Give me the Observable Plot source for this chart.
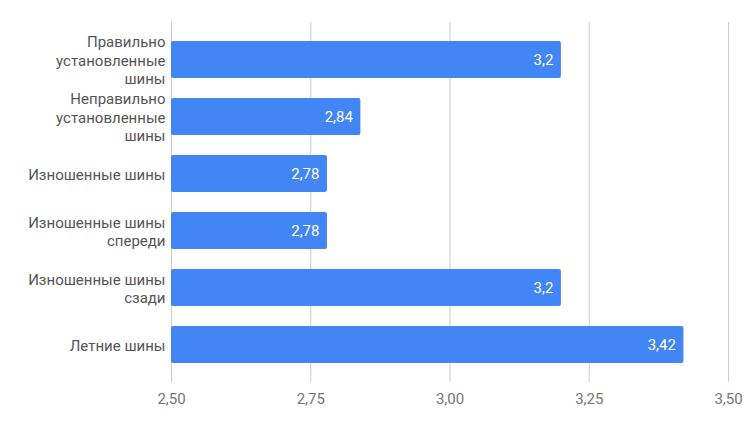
<!DOCTYPE html>
<html><head><meta charset="utf-8">
<script src="https://cdn.jsdelivr.net/npm/d3@7"></script>
<script src="https://cdn.jsdelivr.net/npm/@observablehq/plot@0.6"></script>
<style>body{margin:0;background:#fff;} svg{display:block;}</style>
</head><body><div id="chart"></div>
<script>
const categories = [
  "Правильно\nустановленные\nшины",
  "Неправильно\nустановленные\nшины",
  "Изношенные шины",
  "Изношенные шины\nспереди",
  "Изношенные шины\nсзади",
  "Летние шины"
];
const values = [3.2, 2.84, 2.78, 2.78, 3.2, 3.42];
const xTicks = [2.5, 2.75, 3.0, 3.25, 3.5];

const data = categories.map((c, i) => ({cat: c, v: values[i]}));
const fmt = v => String(v).replace(".", ",");

const chart = Plot.plot({
  width: 750, height: 431,
  marginLeft: 171, marginRight: 22, marginTop: 22, marginBottom: 49,
  style: {fontFamily: "Roboto, sans-serif", background: "#fff"},
  x: {domain: [2.5, 3.5], ticks: xTicks},
  y: {domain: categories, padding: 0.35, range: [21, 384]},
  marks: [
    Plot.ruleX(xTicks, {stroke: "#cccccc", strokeWidth: 1}),
    Plot.barX(data, {x1: 2.5, x2: "v", y: "cat", fill: "#4285f4", rx: 2}),
    Plot.text(data, {x: "v", y: "cat", text: d => fmt(d.v), fill: "white", textAnchor: "end", dx: -8, fontSize: 15}),
    Plot.axisX({ticks: xTicks, tickFormat: d => d.toFixed(2).replace(".", ","), tickSize: 0, tickPadding: 11, fontSize: 15, color: "#757575", label: null}),
    Plot.axisY({tickSize: 0, tickPadding: 6, fontSize: 15, lineHeight: 1.23, color: "#555555", label: null})
  ]
});
document.getElementById("chart").appendChild(chart);
</script></body></html>
